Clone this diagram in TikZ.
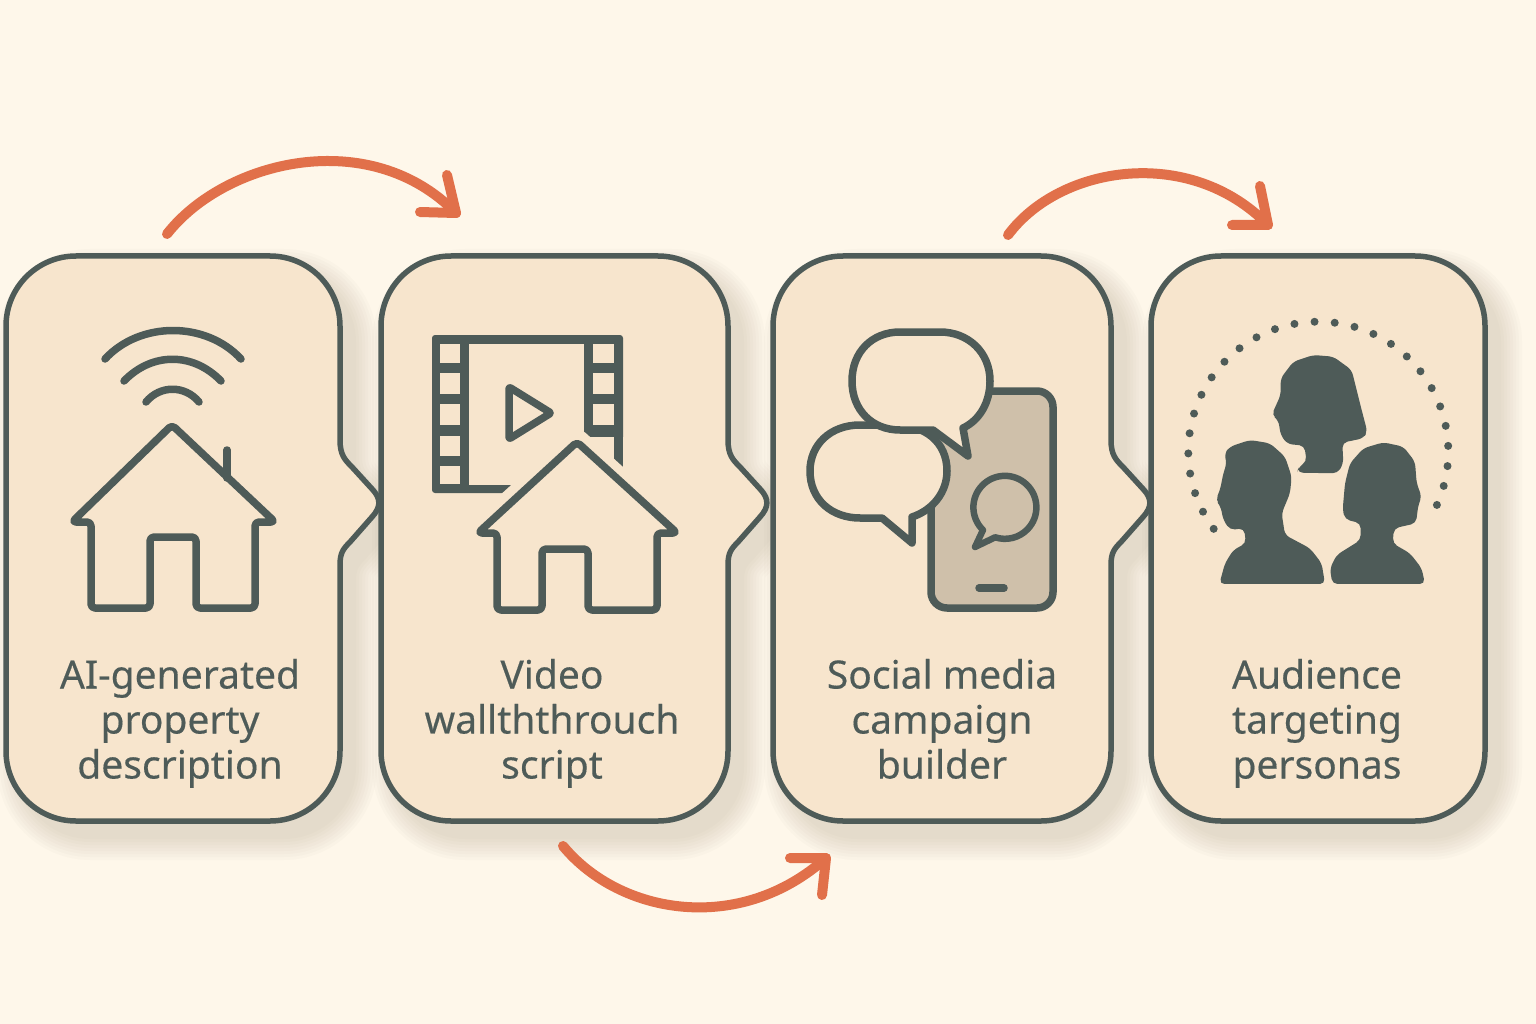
\documentclass[tikz,border=0pt]{standalone}
\usepackage{fontspec}
\setmainfont{Noto Sans}[FakeBold=0.3]
\definecolor{bgcream}{HTML}{FEF7EA}
\definecolor{cardfill}{HTML}{F7E5CD}
\definecolor{slateline}{HTML}{4E5B58}
\definecolor{orangearc}{HTML}{E1704A}
\definecolor{phonefill}{HTML}{CFC0AA}
\definecolor{shadowtone}{HTML}{7A6A50}
\tikzset{
	iconline/.style={draw=slateline,line width=7.5pt,line join=round,line cap=round},
	flowarc/.style={draw=orangearc,line width=10pt,line cap=round,line join=round},
	cardlabel/.style={text=slateline,align=center,anchor=base,font=\fontsize{39}{45}\bfseries\selectfont,inner sep=0pt},
}
% Outline of a card: left, right, size of the bump on the right side
\newcommand{\cardpath}[3]{(#1,326) arc (180:270:70) -- (#2-70,256) arc (270:360:70)
	-- (#2,440) .. controls (#2,455) and (#2+5*#3,460) .. (#2+12*#3,467)
	-- (#2+33*#3,490) .. controls (#2+41*#3,499) and (#2+41*#3,507) .. (#2+32*#3,517)
	-- (#2+10*#3,542) .. controls (#2+3*#3,549) and (#2,553) .. (#2,565)
	-- (#2,751) arc (0:90:70) -- (#1+70,821) arc (90:180:70) -- cycle}
% Outline of a house: apex x, wall x left, wall x right, door x, then apex, eave, door top and floor y
\newcommand{\housepath}[8]{(#1,#5) -- (#2-19,#6) -- (#2,#6) -- (#2,#8) -- (#4,#8) -- (#4,#7) -- (#4+46,#7) -- (#4+46,#8) -- (#3,#8) -- (#3,#6) -- (#3+20,#6) -- cycle}
\begin{document}
\begin{tikzpicture}[x=1pt,y=-1pt]
	\path[use as bounding box,fill=bgcream] (0,0) rectangle (1536,1024);
	% Draw card shadows
	\foreach \cardL/\cardR/\cardB in {6/340/1,381/728/1,773/1111/1,1151/1485/0} {
		\foreach \w in {4,10,...,46} {
			\begin{scope}[transparency group,opacity=.025,shift={(14,16)}]
				\fill[shadowtone,draw=shadowtone,line width=\w pt] \cardpath{\cardL}{\cardR}{\cardB};
			\end{scope}
		}
	}
	% Draw cards
	\foreach \cardL/\cardR/\cardB in {6/340/1,381/728/1,773/1111/1,1151/1485/0}
		\draw[fill=cardfill,draw=slateline,line width=5.5pt] \cardpath{\cardL}{\cardR}{\cardB};
	% Draw wifi waves
	\draw[iconline] (105,359) .. controls (140,321) and (206,321) .. (241,359);
	\draw[iconline] (124,381) .. controls (152,352) and (193,352) .. (221,381);
	\draw[iconline] (146,402) .. controls (160,385) and (185,385) .. (199,402);
	% Draw first house
	\draw[iconline] (227,450) -- (227,478);
	\draw[iconline,rounded corners=4pt] \housepath{172}{91}{255}{150}{425}{522}{537}{608};
	% Draw film strip
	\fill[slateline,rounded corners=3pt] (432,335) rectangle (623,493);
	\fill[cardfill] (469,344) rectangle (584,485);
	\fill[cardfill] (584,437) rectangle (630,500);
	\fill[slateline] (614,437) rectangle (623,480);
	\foreach \holeT/\holeB in {344/363,373/394,404/425,436/456,466/484}
		\fill[cardfill] (440,\holeT) rectangle (460,\holeB);
	\foreach \holeT/\holeB in {344/363,373/394,404/425}
		\fill[cardfill] (593,\holeT) rectangle (614,\holeB);
	% Draw play button
	\draw[iconline,rounded corners=2pt] (509,387) -- (551,413) -- (509,439) -- cycle;
	% Draw second house with a gap around it
	\fill[cardfill,draw=cardfill,line width=25pt,line join=round] (577,442) -- (477,533) -- (677,533) -- cycle;
	\draw[iconline,fill=cardfill,rounded corners=4pt] \housepath{577}{497}{657}{542}{442}{533}{549}{610};
	% Draw phone
	\draw[iconline,fill=phonefill,rounded corners=16pt] (931,391) rectangle (1053,608);
	\draw[iconline] (979,588) -- (1004,588);
	\draw[iconline,line width=6.5pt] (983,530) arc (134:468:31.5) -- (975,547) -- cycle;
	% Draw speech bubbles
	\draw[iconline,fill=cardfill] (882,518) -- (912,543) -- (912,517) .. controls (933,510) and (947,492) .. (947,471)
		.. controls (947,442) and (925,425) .. (895,425) -- (860,425) .. controls (830,425) and (810,445) .. (810,471)
		.. controls (810,500) and (832,518) .. (860,518) -- cycle;
	\draw[iconline,fill=cardfill] (933,430) -- (968,456) -- (963,428) .. controls (980,420) and (990,402) .. (990,381)
		.. controls (990,352) and (968,332) .. (940,332) -- (900,332) .. controls (872,332) and (852,352) .. (852,381)
		.. controls (852,410) and (872,430) .. (900,430) -- cycle;
	% Draw ring of dots
	\foreach \i in {0,...,27}
		\fill[slateline] ({1318.3+130*cos(143.6+8.91*\i)},{451.7+130*sin(143.6+8.91*\i)}) circle (4pt);
	% Draw three heads
	\begin{scope}[shift={(1170,310)},x=.3333pt,y=-.3333pt]
		\fill[slateline,rounded corners=5pt] (382,488) -- (385,472) -- (410,455) -- (403,407) -- (352,402) -- (332,375) -- (325,330) -- (305,315) -- (332,255) -- (332,205) -- (370,155) -- (430,135) -- (490,140) -- (545,180) -- (560,240) -- (575,300) -- (592,365) -- (580,385) -- (517,398) -- (520,460) -- (503,490) -- cycle;
		\fill[slateline,rounded corners=5pt] (148,822) -- (165,760) -- (190,720) -- (228,700) -- (222,655) -- (180,660) -- (160,630) -- (152,590) -- (137,570) -- (150,540) -- (160,490) -- (170,460) -- (163,430) -- (180,410) -- (240,390) -- (300,400) -- (345,440) -- (365,500) -- (360,550) -- (335,610) -- (345,675) -- (420,715) -- (455,760) -- (465,822) -- cycle;
		\fill[slateline,rounded corners=5pt] (487,822) -- (480,775) -- (500,735) -- (540,710) -- (572,690) -- (572,640) -- (525,628) -- (518,600) -- (525,520) -- (540,460) -- (580,415) -- (640,397) -- (700,410) -- (735,455) -- (740,520) -- (755,560) -- (745,585) -- (738,640) -- (672,655) -- (668,700) -- (720,730) -- (755,775) -- (765,822) -- cycle;
	\end{scope}
	% Card labels
	\node[cardlabel] (labelA) at (180,778.5) {AI-generated\\property\\description};
	\node[cardlabel] (labelB) at (552,778.5) {Video\\wallththrouch\\script};
	\node[cardlabel] (labelC) at (942,778.5) {Social media\\campaign\\builder};
	\node[cardlabel] (labelD) at (1317,778.5) {Audience\\targeting\\personas};
	% Draw orange arrows
	\coordinate (arcAstart) at (167,234);
	\coordinate (arcAtip) at (456,213);
	\coordinate (arcBstart) at (563,846);
	\coordinate (arcBtip) at (826,858);
	\coordinate (arcCstart) at (1008,235);
	\coordinate (arcCtip) at (1268,225);
	\draw[flowarc] (arcAstart) .. controls (225,160) and (370,125) .. (arcAtip);
	\draw[flowarc] (447,175) -- (arcAtip) -- (420,212);
	\draw[flowarc] (arcBstart) .. controls (620,915) and (740,935) .. (arcBtip);
	\draw[flowarc] (790,858) -- (arcBtip) -- (822,895);
	\draw[flowarc] (arcCstart) .. controls (1060,165) and (1190,145) .. (arcCtip);
	\draw[flowarc] (1260,186) -- (arcCtip) -- (1232,225);
\end{tikzpicture}
\end{document}
